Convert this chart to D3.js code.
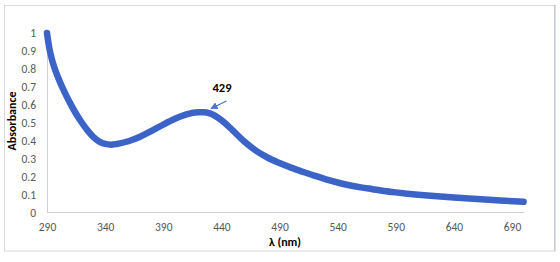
<!DOCTYPE html>
<html><head><meta charset="utf-8">
<script src="https://cdn.jsdelivr.net/npm/d3@7"></script>
<style>body{margin:0;background:#fff}svg{display:block}</style>
</head><body>
<script>
const wavelengths = [290,292,295,300,305,310,315,320,325,330,335,340,345,350,360,370,380,390,400,410,420,425,430,440,450,460,470,480,490,500,510,520,530,540,550,560,570,580,590,600,620,640,660,680,700];
const absorbance  = [1.00,0.915,0.835,0.745,0.672,0.608,0.55,0.50,0.456,0.42,0.395,0.382,0.378,0.382,0.397,0.422,0.455,0.49,0.522,0.547,0.558,0.558,0.552,0.515,0.456,0.394,0.343,0.305,0.276,0.25,0.227,0.205,0.185,0.167,0.152,0.14,0.13,0.12,0.112,0.105,0.093,0.083,0.075,0.067,0.06];
const xTicks = [290,340,390,440,490,540,590,640,690];
const yTicks = [0,0.1,0.2,0.3,0.4,0.5,0.6,0.7,0.8,0.9,1];
const peakLabel = "429";
const xTitle = "λ (nm)";
const yTitle = "Absorbance";

const W = 560, H = 262;
const svg = d3.select("body").append("svg").attr("width", W).attr("height", H);
svg.append("rect").attr("x",4.5).attr("y",5.5).attr("width",550).attr("height",245.5)
  .attr("fill","#fff").attr("stroke","#d9d9d9");
svg.append("line").attr("x1",555).attr("x2",555).attr("y1",5).attr("y2",251).attr("stroke","#b4bccc");

const x = d3.scaleLinear().domain([290,690]).range([47,512]);
const y = d3.scaleLinear().domain([0,1]).range([212.5,33]);

const font = "Calibri, Carlito, 'Liberation Sans', Arial, sans-serif";

// axes
const xAxis = svg.append("g").attr("transform",`translate(0,${y(0)})`)
  .call(d3.axisBottom(x).tickValues(xTicks).tickSize(0).tickPadding(10).tickFormat(d3.format("d")));
xAxis.select(".domain").attr("d",`M${x(290)},0H${x(700)+1}`).attr("stroke","#d0d0d0");
const yAxis = svg.append("g").attr("transform",`translate(${x(290)},0)`)
  .call(d3.axisLeft(y).tickValues(yTicks).tickSize(0).tickPadding(11).tickFormat(d => d===0||d===1 ? d3.format("d")(d) : d3.format(".1f")(d)));
yAxis.select(".domain").attr("stroke","#d0d0d0");
svg.selectAll(".tick text").attr("fill","#595959").attr("font-size","11.5px").attr("font-family",font);

// line
const line = d3.line().x((d,i)=>x(wavelengths[i])).y(d=>y(d)).curve(d3.curveMonotoneX);
svg.append("path").datum(absorbance).attr("d",line).attr("fill","none")
  .attr("stroke","#3c64c8").attr("stroke-width",6.5).attr("stroke-linecap","round").attr("stroke-linejoin","round");

// annotation
svg.append("defs").append("marker").attr("id","ah").attr("viewBox","0 0 10 10").attr("refX",9).attr("refY",5)
  .attr("markerWidth",6).attr("markerHeight",6).attr("orient","auto")
  .append("path").attr("d","M0,0L10,5L0,10z").attr("fill","#4a72d0");
svg.append("line").attr("x1",226.5).attr("y1",101).attr("x2",211).attr("y2",108.5)
  .attr("stroke","#4a72d0").attr("stroke-width",1.2).attr("marker-end","url(#ah)");
svg.append("text").attr("x",222).attr("y",91.5).attr("text-anchor","middle")
  .attr("font-family",font).attr("font-weight","bold").attr("font-size","12.5px").attr("fill","#000").text(peakLabel);

// titles
svg.append("text").attr("x",285).attr("y",246).attr("text-anchor","middle")
  .attr("font-family",font).attr("font-weight","bold").attr("font-size","12px").attr("fill","#000").text(xTitle);
svg.append("text").attr("transform","translate(16,121) rotate(-90)").attr("text-anchor","middle")
  .attr("font-family",font).attr("font-weight","bold").attr("font-size","12px").attr("fill","#000").text(yTitle);
</script>
</body></html>
